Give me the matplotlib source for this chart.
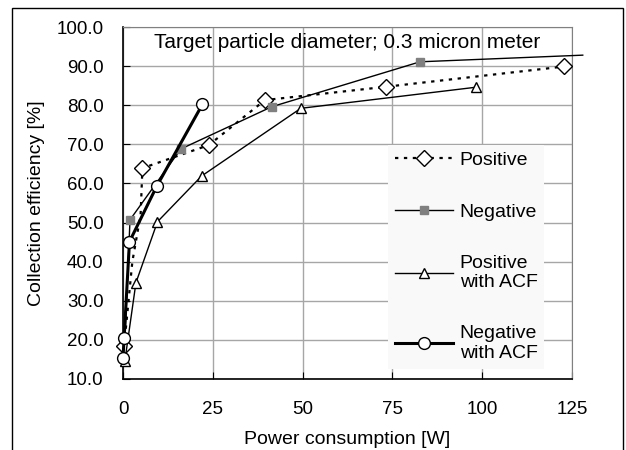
import matplotlib.pyplot as plt
from matplotlib.patches import Rectangle

plt.rcParams['font.family'] = ['Liberation Sans', 'DejaVu Sans']

# data
pos_x = [0.3, 2.6, 4.9, 5.4, 23.9, 39.5, 73.1, 122.9]
pos_y = [18.3, 40.0, 52.0, 63.9, 69.8, 81.3, 84.7, 89.9]
pos_marks = [0, 3, 4, 5, 6, 7]

neg_x = [0.5, 1.95, 16.1, 41.4, 82.7, 128.0]
neg_y = [19.5, 50.7, 68.8, 79.6, 91.1, 92.8]
neg_marks = [1, 2, 3, 4]

pacf_x = [0.5, 3.6, 9.6, 21.9, 49.5, 98.3]
pacf_y = [14.5, 34.6, 50.2, 61.9, 79.2, 84.6]

nacf_x = [0.0, 0.3, 1.8, 9.4, 22.1]
nacf_y = [15.3, 20.4, 45.1, 59.3, 80.2]

xticks = [0, 25, 50, 75, 100, 125]
yticks = [10, 20, 30, 40, 50, 60, 70, 80, 90, 100]

fig = plt.figure(figsize=(6.26, 4.5), dpi=100)
ax = fig.add_axes([0.1965, 0.158, 0.7172, 0.782])

# outer chart frame
fig.patches.append(Rectangle((12 / 626, -0.05), 611 / 626, 1.05 - 8 / 450,
                             transform=fig.transFigure, fill=False,
                             edgecolor='black', linewidth=1))

ax.plot(pos_x, pos_y, color='black', linestyle=(0, (1.5, 2.5)), linewidth=1.6,
        marker='D', markersize=8.5, markerfacecolor='white', markeredgecolor='black',
        markeredgewidth=1, markevery=pos_marks, label='Positive', clip_on=False, zorder=3)
ax.plot(neg_x, neg_y, color='black', linewidth=1,
        marker='s', markersize=6, markerfacecolor='#808080', markeredgecolor='#808080',
        markevery=neg_marks, label='Negative', clip_on=False, zorder=3)
ax.plot(pacf_x, pacf_y, color='black', linewidth=1,
        marker='^', markersize=7.5, markerfacecolor='white', markeredgecolor='black',
        markeredgewidth=1, label='Positive\nwith ACF', clip_on=False, zorder=4)
ax.plot(nacf_x, nacf_y, color='black', linewidth=2.2,
        marker='o', markersize=8.5, markerfacecolor='white', markeredgecolor='black',
        markeredgewidth=1, label='Negative\nwith ACF', clip_on=False, zorder=5)

ax.set_xlim(0, 125)
ax.set_ylim(10, 100)
ax.set_xticks(xticks)
ax.set_yticks(yticks)
ax.set_yticklabels(['%.1f' % v for v in yticks])
ax.tick_params(direction='in', length=5, labelsize=13.5, color='black')
ax.tick_params(axis='y', pad=14)
ax.tick_params(axis='x', pad=16)
ax.grid(True, color='#a6a6a6', linewidth=1)
ax.set_axisbelow(True)
for s in ['top', 'right']:
    ax.spines[s].set_color('#808080')
for s in ['left', 'bottom']:
    ax.spines[s].set_color('black')
    ax.spines[s].set_linewidth(1.2)

ax.set_xlabel('Power consumption [W]', fontsize=14, labelpad=9)
ax.set_ylabel('Collection efficiency [%]', fontsize=14, labelpad=8)

ax.text(0.5, 0.955, 'Target particle diameter; 0.3 micron meter', transform=ax.transAxes,
        ha='center', va='center', fontsize=15)

leg = ax.legend(loc='upper left', bbox_to_anchor=(0.568, 0.693), frameon=True,
                fontsize=14, handlelength=3.0, handletextpad=0.35, labelspacing=1.75,
                borderpad=0.35, fancybox=False, framealpha=1)
leg.get_frame().set_edgecolor('none')
leg.get_frame().set_facecolor('#f9f9f9')
leg.set_zorder(10)

fig.savefig('out.png', dpi=100)
